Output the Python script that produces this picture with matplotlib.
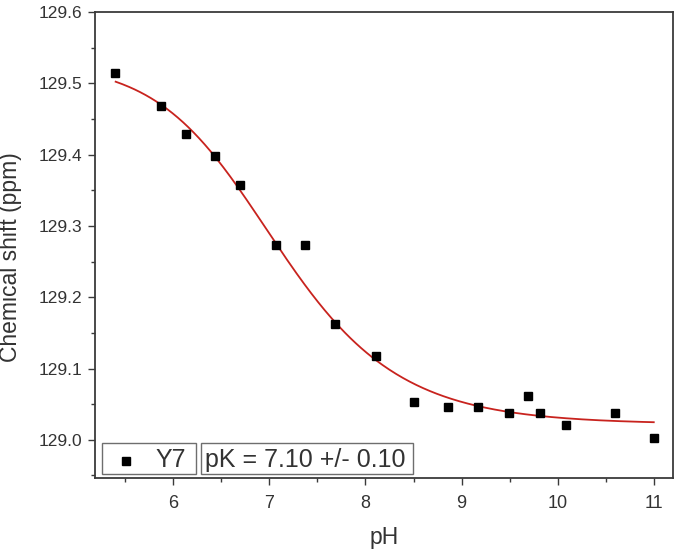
import numpy as np
import matplotlib
matplotlib.use("Agg")
import matplotlib.pyplot as plt
from matplotlib.patches import Rectangle
from matplotlib.ticker import MultipleLocator, FormatStrFormatter

plt.rcParams['font.family'] = ['Liberation Sans', 'DejaVu Sans']

# Data
ph = [5.39, 5.87, 6.13, 6.43, 6.69, 7.07, 7.37, 7.68, 8.11, 8.51, 8.86,
      9.17, 9.49, 9.69, 9.82, 10.09, 10.60, 11.00]
shift = [129.515, 129.468, 129.429, 129.398, 129.357, 129.273, 129.273,
         129.162, 129.117, 129.053, 129.046, 129.046, 129.037, 129.062,
         129.037, 129.021, 129.037, 129.002]

# Fitted titration-curve parameters (generalized logistic, as drawn)
delta_acid = 129.530
delta_base = 129.022
x_mid = 6.751
width = 0.55
asym = 0.68
fit_range = (5.40, 11.00)

series_label = "Y7"
fit_label = "pK = 7.10 +/- 0.10"

fig = plt.figure(figsize=(6.78, 5.50), dpi=100)
ax = fig.add_axes([0.1394, 0.1304, 0.8532, 0.8476])

xf = np.linspace(fit_range[0], fit_range[1], 400)
frac = (1 + np.exp((xf - x_mid) / width)) ** (-asym)
yf = delta_base + (delta_acid - delta_base) * frac
ax.plot(xf, yf, color='#c8231e', lw=1.3, zorder=2)
ax.plot(ph, shift, 's', color='black', ms=6, zorder=3, linestyle='none')

ax.set_xlim(5.18, 11.2)
ax.set_ylim(128.946, 129.6)
ax.xaxis.set_major_locator(MultipleLocator(1))
ax.xaxis.set_minor_locator(MultipleLocator(0.5))
ax.yaxis.set_major_locator(MultipleLocator(0.1))
ax.yaxis.set_minor_locator(MultipleLocator(0.05))
ax.yaxis.set_major_formatter(FormatStrFormatter('%.1f'))

tc = '#333333'
for s in ax.spines.values():
    s.set_color('#3a3a3a')
    s.set_linewidth(1.3)
ax.tick_params(which='both', direction='out', top=False, right=False,
               colors='#3a3a3a', labelcolor=tc, width=1.0)
ax.tick_params(which='major', length=5, labelsize=12.5)
ax.tick_params(axis='x', which='major', pad=7, labelsize=13)
ax.tick_params(which='minor', length=3)

ax.set_xlabel('pH', fontsize=16.5, color=tc, labelpad=10)
ax.set_ylabel('Chemical shift (ppm)', fontsize=16.5, color=tc)
ax.yaxis.set_label_coords(-0.125, 0.475)

# Legend boxes
y0, y1 = 0.0086, 0.0763
ax.add_patch(Rectangle((0.0125, y0), 0.1755 - 0.0125, y1 - y0, transform=ax.transAxes,
                       fill=False, edgecolor='#6e6e6e', lw=1.0, zorder=5))
ax.add_patch(Rectangle((0.1841, y0), 0.550 - 0.1841, y1 - y0, transform=ax.transAxes,
                       fill=False, edgecolor='#6e6e6e', lw=1.0, zorder=5))
ax.plot([0.0545], [0.0377], 's', color='black', ms=6, transform=ax.transAxes, zorder=6)
ax.text(0.1046, 0.040, series_label, transform=ax.transAxes, fontsize=18,
        va='center', ha='left', color=tc)
ax.text(0.191, 0.040, fit_label, transform=ax.transAxes, fontsize=18,
        va='center', ha='left', color=tc)

fig.savefig('out.png', dpi=100)
